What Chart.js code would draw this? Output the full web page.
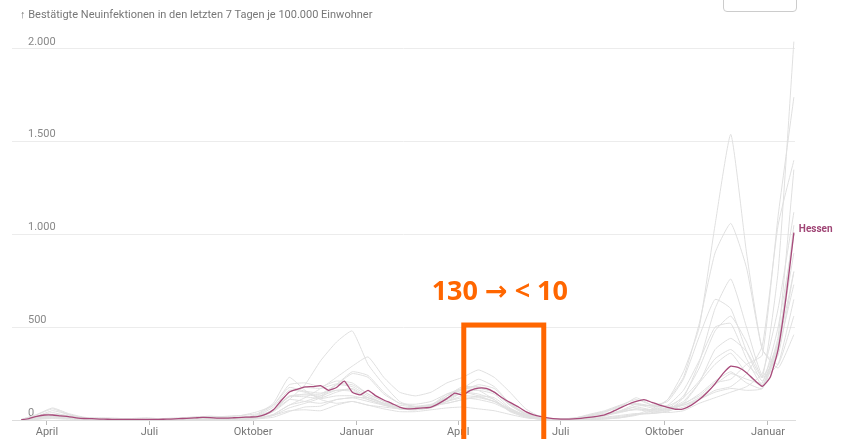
<!DOCTYPE html>
<html lang="de">
<head>
<meta charset="utf-8">
<script src="https://cdn.jsdelivr.net/npm/chart.js@4.4.0/dist/chart.umd.min.js"></script>
<style>
  html, body { margin: 0; padding: 0; background: #fff; }
  #wrap { position: relative; width: 845px; height: 439px; overflow: hidden; }
  #title { position: absolute; left: 20px; top: 8px; font: 11px Roboto, sans-serif; color: #777; white-space: nowrap; }
  #menu { position: absolute; left: 723px; top: -6px; width: 72px; height: 16px; border: 1px solid #ccc; border-radius: 4px; }
  canvas { position: absolute; left: 0; top: 0; }
</style>
</head>
<body>
<div id="wrap">
  <canvas id="chart" width="845" height="439"></canvas>
  <div id="title">↑ Bestätigte Neuinfektionen in den letzten 7 Tagen je 100.000 Einwohner</div>
  <div id="menu"></div>
</div>
<script>
// Axis ticks
const tickDates = ['2020-04-01', '2020-07-01', '2020-10-01', '2021-01-01', '2021-04-01', '2021-07-01', '2021-10-01', '2022-01-01'];
const tickLabels = ['April', 'Juli', 'Oktober', 'Januar', 'April', 'Juli', 'Oktober', 'Januar'];
const yTicks = [0, 500, 1000, 1500, 2000];
const yTickLabels = ['0', '500', '1.000', '1.500', '2.000'];

// Hessen, weekly from 2020-03-09
const hessenStart = '2020-03-09';
const hessen = [
  1, 8, 20, 27, 27, 22, 18, 12, 8, 7, 5, 4, 3, 3, 3, 3, 3, 3, 4, 5,
  7, 9, 11, 14, 13, 10, 10, 12, 14, 16, 18, 30, 55, 105, 150, 165, 178, 180, 185, 160,
  175, 210, 150, 135, 160, 130, 108, 90, 70, 60, 62, 65, 70, 90, 115, 145, 135, 160, 172, 170,
  150, 120, 95, 72, 45, 28, 18, 10, 6, 5, 6, 9, 14, 20, 28, 45, 65, 85, 100, 110,
  95, 80, 68, 58, 60, 80, 110, 148, 195, 250, 290, 282, 255, 215, 182, 230, 380, 660, 1010
];

// Other states, every two weeks from 2020-03-09
const otherStart = '2020-03-09';
const sachsen = [1, 15, 25, 15, 6, 3, 2, 2, 1, 2, 3, 5, 6, 8, 10, 14, 45, 110, 190, 320, 420, 480, 300, 190, 100, 70, 80, 110, 170, 220, 180, 90, 35, 8, 3, 2, 4, 6, 12, 25, 50, 110, 260, 500, 1050, 1540, 900, 380, 300, 560];
const thueringen = [0, 8, 30, 25, 12, 6, 4, 2, 1, 1, 2, 3, 4, 6, 9, 12, 30, 80, 120, 170, 230, 290, 340, 230, 150, 130, 150, 200, 230, 270, 230, 150, 60, 15, 4, 2, 3, 5, 12, 30, 60, 110, 230, 520, 900, 1060, 820, 380, 280, 460];
const bayern = [2, 30, 65, 35, 15, 8, 4, 3, 3, 4, 6, 12, 16, 14, 16, 22, 55, 150, 175, 170, 195, 190, 140, 100, 65, 65, 80, 130, 180, 175, 150, 80, 30, 10, 6, 6, 14, 22, 45, 75, 80, 100, 220, 450, 650, 600, 370, 210, 400, 1050];
const badenWuerttemberg = [3, 28, 60, 30, 12, 6, 3, 2, 3, 4, 6, 10, 12, 10, 12, 20, 55, 125, 140, 140, 190, 180, 130, 90, 60, 55, 70, 130, 170, 180, 150, 85, 35, 10, 5, 6, 12, 22, 50, 85, 75, 80, 160, 320, 500, 520, 330, 190, 420, 1000];
const berlin = [1, 15, 22, 12, 8, 6, 8, 7, 6, 8, 12, 16, 20, 18, 25, 45, 80, 190, 200, 180, 210, 200, 140, 100, 65, 60, 70, 100, 150, 160, 140, 65, 25, 8, 6, 10, 25, 45, 75, 90, 75, 75, 120, 210, 330, 380, 300, 230, 800, 2040];
const hamburg = [2, 20, 40, 20, 6, 4, 3, 2, 3, 5, 8, 16, 20, 15, 10, 22, 50, 125, 125, 115, 130, 130, 110, 80, 60, 60, 75, 120, 150, 130, 100, 50, 25, 8, 4, 8, 30, 50, 80, 85, 65, 60, 90, 130, 200, 220, 300, 350, 1100, 1740];
const bremen = [1, 10, 20, 15, 10, 12, 10, 4, 3, 5, 8, 10, 14, 20, 25, 35, 90, 230, 160, 110, 90, 100, 80, 70, 60, 70, 80, 90, 110, 130, 120, 60, 25, 8, 5, 10, 25, 45, 70, 120, 80, 60, 80, 110, 160, 180, 250, 400, 1050, 1400];
const nrw = [2, 15, 30, 18, 8, 5, 6, 8, 12, 5, 8, 12, 14, 10, 12, 30, 80, 175, 155, 145, 160, 155, 120, 90, 60, 60, 70, 110, 150, 170, 150, 80, 30, 8, 5, 8, 20, 40, 80, 110, 80, 70, 80, 120, 190, 250, 220, 200, 500, 1000];
const niedersachsen = [1, 12, 20, 12, 6, 4, 4, 3, 3, 3, 5, 8, 10, 8, 8, 18, 50, 110, 100, 90, 110, 120, 100, 80, 65, 60, 70, 100, 120, 110, 90, 50, 20, 5, 3, 5, 12, 25, 40, 60, 50, 50, 70, 110, 150, 170, 160, 170, 400, 800];
const schleswigHolstein = [1, 10, 15, 8, 4, 3, 2, 2, 2, 3, 4, 6, 7, 6, 7, 10, 25, 50, 55, 50, 80, 100, 80, 60, 45, 45, 55, 65, 70, 60, 50, 30, 12, 5, 4, 8, 20, 35, 45, 55, 45, 40, 50, 90, 120, 150, 180, 250, 600, 1120];
const mecklenburgVorpommern = [0, 4, 8, 4, 2, 1, 1, 1, 1, 1, 2, 3, 4, 3, 4, 6, 15, 45, 70, 75, 110, 120, 120, 90, 80, 70, 80, 140, 170, 160, 110, 45, 15, 3, 2, 3, 8, 15, 25, 35, 35, 45, 90, 200, 380, 440, 370, 230, 420, 900];
const brandenburg = [0, 6, 12, 8, 4, 2, 1, 1, 1, 1, 2, 3, 4, 4, 5, 8, 30, 80, 100, 130, 190, 250, 230, 140, 90, 75, 85, 120, 150, 140, 110, 50, 15, 4, 2, 2, 5, 12, 20, 30, 35, 50, 120, 310, 600, 760, 500, 240, 350, 800];
const sachsenAnhalt = [0, 5, 12, 10, 6, 3, 2, 2, 1, 1, 2, 3, 4, 3, 4, 8, 25, 65, 90, 120, 190, 260, 240, 150, 90, 85, 100, 140, 160, 190, 170, 90, 30, 6, 2, 2, 4, 8, 15, 30, 40, 60, 130, 280, 480, 560, 420, 230, 300, 650];
const saarland = [1, 20, 50, 30, 12, 6, 4, 3, 3, 4, 6, 10, 12, 10, 12, 25, 70, 160, 150, 120, 150, 170, 120, 90, 65, 70, 75, 90, 110, 120, 100, 60, 25, 8, 4, 5, 12, 25, 45, 60, 55, 60, 100, 200, 300, 360, 250, 180, 450, 1350];
const rheinlandPfalz = [1, 15, 30, 18, 8, 5, 3, 2, 3, 4, 6, 10, 12, 10, 10, 20, 55, 130, 135, 130, 160, 165, 110, 85, 60, 55, 65, 100, 130, 125, 100, 55, 20, 6, 3, 5, 12, 25, 50, 70, 55, 55, 85, 140, 210, 260, 200, 170, 380, 730];

const others = [sachsen, thueringen, bayern, badenWuerttemberg, berlin, hamburg, bremen, nrw, niedersachsen,
  schleswigHolstein, mecklenburgVorpommern, brandenburg, sachsenAnhalt, saarland, rheinlandPfalz];

// Annotation
const noteText = '130 → < 10';
const noteBox = { from: '2021-04-06', to: '2021-06-16', top: 512, bottom: -140 };
const noteTextPos = { date: '2021-05-08', value: 690 };

const DAY = 86400000;
const origin = Date.UTC(2020, 3, 1);
function dayOf(s) {
  const p = s.split('-').map(Number);
  return (Date.UTC(p[0], p[1] - 1, p[2]) - origin) / DAY;
}
function toPoints(start, step, values) {
  const d0 = dayOf(start);
  return values.map((v, i) => ({ x: d0 + i * step, y: v }));
}

const datasets = [{
  label: 'Hessen',
  data: toPoints(hessenStart, 7, hessen),
  borderColor: '#a84b7b',
  borderWidth: 1.3
}];
others.forEach(function(vals) {
  datasets.push({
    data: toPoints(otherStart, 14, vals),
    borderColor: '#e0e0e0',
    borderWidth: 1
  });
});

const overlay = {
  id: 'overlay',
  afterDraw(chart) {
    const ctx = chart.ctx;
    const xs = chart.scales.x, ys = chart.scales.y;

    // Hessen end label
    const last = chart.getDatasetMeta(0).data[hessen.length - 1];
    ctx.save();
    ctx.fillStyle = '#a04676';
    ctx.font = 'bold 10px Roboto, sans-serif';
    ctx.textBaseline = 'middle';
    ctx.fillText('Hessen', last.x + 5, last.y - 3);

    // orange box
    const x1 = xs.getPixelForValue(dayOf(noteBox.from));
    const x2 = xs.getPixelForValue(dayOf(noteBox.to));
    const y1 = ys.getPixelForValue(noteBox.top);
    const y2 = ys.getPixelForValue(noteBox.bottom);
    ctx.strokeStyle = '#ff6600';
    ctx.lineWidth = 5;
    ctx.strokeRect(x1, y1, x2 - x1, y2 - y1);

    ctx.fillStyle = '#ff6600';
    ctx.font = 'bold 27px "Open Sans", "DejaVu Sans", sans-serif';
    ctx.textAlign = 'center';
    ctx.fillText(noteText, xs.getPixelForValue(dayOf(noteTextPos.date)), ys.getPixelForValue(noteTextPos.value));
    ctx.restore();
  }
};

new Chart(document.getElementById('chart'), {
  type: 'line',
  data: { datasets: datasets },
  options: {
    responsive: false,
    animation: false,
    layout: { padding: { left: 12, right: 50, top: 36, bottom: 0 } },
    elements: {
      point: { radius: 0 },
      line: { tension: 0.15 }
    },
    plugins: {
      legend: { display: false },
      tooltip: { enabled: false }
    },
    scales: {
      x: {
        type: 'linear',
        min: dayOf('2020-03-01'),
        max: dayOf('2022-01-25'),
        afterBuildTicks: function(scale) {
          scale.ticks = tickDates.map(d => ({ value: dayOf(d) }));
        },
        afterFit: function(scale) {
          scale.height = 19;
          scale.paddingLeft = 0;
          scale.paddingRight = 0;
        },
        ticks: {
          autoSkip: false,
          maxRotation: 0,
          padding: 1,
          color: '#777',
          font: { family: 'Roboto', size: 11 },
          callback: function(v, i) { return tickLabels[i]; }
        },
        grid: { drawOnChartArea: false, tickLength: 5, color: '#bbb' },
        border: { display: true, color: '#ddd' }
      },
      y: {
        min: 0,
        max: 2070,
        afterBuildTicks: function(scale) {
          scale.ticks = yTicks.map(v => ({ value: v }));
        },
        afterFit: function(scale) {
          scale.width = 0;
          scale.paddingTop = 0;
          scale.paddingBottom = 0;
        },
        ticks: {
          mirror: true,
          padding: 16,
          labelOffset: -7,
          color: '#888',
          font: { family: 'Roboto', size: 11 },
          callback: function(v, i) { return yTickLabels[i]; }
        },
        grid: { drawTicks: false, color: '#ececec' },
        border: { display: false }
      }
    }
  },
  plugins: [overlay]
});
</script>
</body>
</html>
